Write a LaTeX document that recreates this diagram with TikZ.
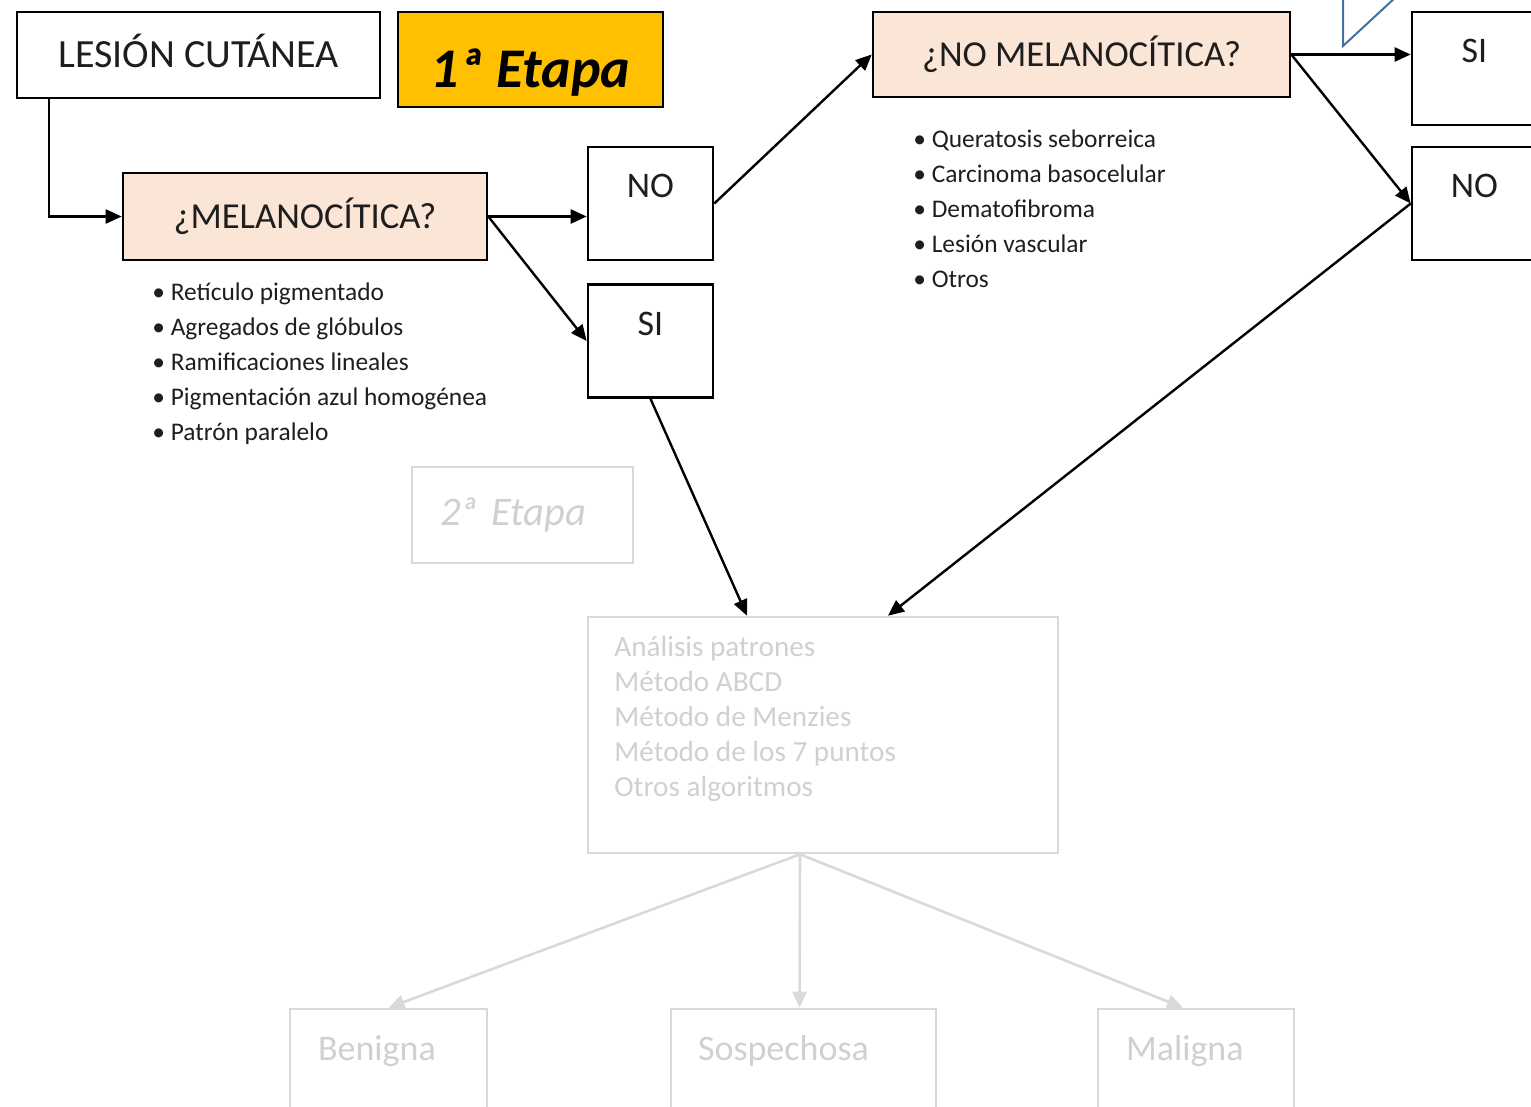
\documentclass[tikz,border=0pt]{standalone}
\usepackage{fontspec}
\setmainfont{Carlito}
\usepackage{xcolor}
\usepackage{tikz}
\usetikzlibrary{arrows.meta}
\definecolor{peach}{HTML}{FBE5D6}
\definecolor{gold}{HTML}{FFC000}
\definecolor{faint}{HTML}{D9D9D9}
\definecolor{faintText}{HTML}{D0D0D0}
\definecolor{ink}{HTML}{1E1E1E}
\definecolor{steel}{HTML}{41719C}

\begin{document}
\begin{tikzpicture}[x=0.5pt,y=-0.5pt,>={Triangle[length=8pt,width=7pt]},
  box/.style={draw=black,line width=1.3pt,inner sep=0pt,text=ink},
  ynbox/.style={box,minimum width=62.5pt,text height=25.5pt,text depth=31pt,font=\fontsize{18}{21}\selectfont},
  faintbox/.style={draw=faint,line width=1.3pt,inner sep=0pt,text=faintText},
  faintcap/.style={faintbox,align=left,inner xsep=14pt,text height=25.5pt,text depth=26.5pt,font=\fontsize{18}{21}\selectfont},
  bullets/.style={anchor=north west,align=left,inner sep=0pt,text=ink,font=\fontsize{12.7}{17.5}\selectfont},
  link/.style={->,line width=1.2pt},
  faintlink/.style={->,draw=faint,line width=1.3pt}]
  \useasboundingbox (0,0) rectangle (1531,1107);
  \clip (0,0) rectangle (1531,1107);
  % first stage
  \node[box,minimum width=181.5pt,text height=28pt,text depth=15pt,font=\fontsize{20}{24}\selectfont] (lesion) at (198.5,55) {LESIÓN CUTÁNEA};
  \node[box,fill=gold,minimum width=132.5pt,text height=38pt,text depth=9.5pt,font=\fontsize{28}{32}\selectfont\bfseries\itshape,text=black] (etapa1) at (530.5,59.5) {1ª Etapa};
  \node[box,fill=peach,minimum width=182pt,minimum height=43.5pt,font=\fontsize{18.3}{22}\selectfont] (mel) at (305,216.5) {¿MELANOCÍTICA?};
  \node[ynbox] (no1) at (650.5,203.5) {NO};
  \node[ynbox] (si1) at (650.5,341) {SI};
  \node[box,fill=peach,minimum width=208.5pt,minimum height=42.5pt,font=\fontsize{18.3}{22}\selectfont] (nomel) at (1081.5,54.5) {¿NO MELANOCÍTICA?};
  \node[ynbox] (si2) at (1474.5,68.5) {SI};
  \node[ynbox] (no2) at (1474.5,203.5) {NO};
  \node[bullets] (melList) at (152,282) {\textbullet\ Retículo pigmentado\\ \textbullet\ Agregados de glóbulos\\ \textbullet\ Ramificaciones lineales\\ \textbullet\ Pigmentación azul homogénea\\ \textbullet\ Patrón paralelo};
  \node[bullets] (nomelList) at (913,129) {\textbullet\ Queratosis seborreica\\ \textbullet\ Carcinoma basocelular\\ \textbullet\ Dematofibroma\\ \textbullet\ Lesión vascular\\ \textbullet\ Otros};
  \draw[steel,line width=1pt] (1397,-4) -- (1343,46) -- (1343,-10);
  % second stage
  \node[faintbox,align=left,inner xsep=14pt,text width=82.5pt,minimum height=48pt,font=\fontsize{20.3}{24}\selectfont\itshape] (etapa2) at (522.5,515) {2ª Etapa};
  \node[faintbox,minimum width=235pt,minimum height=118pt] (ana) at (823,735) {};
  \node[anchor=north west,align=left,inner sep=0pt,text=faintText,font=\fontsize{14.6}{17.5}\selectfont] (anaList) at (614,636) {Análisis patrones\\ Método ABCD\\ Método de Menzies\\ Método de los 7 puntos\\ Otros algoritmos};
  \node[faintcap,text width=70.5pt] (ben) at (388.5,1061) {Benigna};
  \node[faintcap,inner xsep=13.5pt,text width=105.5pt] (sos) at (803.5,1061) {Sospechosa};
  \node[faintcap,text width=70pt] (mal) at (1196,1061) {Maligna};
  % connectors
  \draw[link] ([xshift=16.5pt]lesion.south west) |- (mel.west);
  \draw[link] (mel.east) -- (mel.east -| no1.west);
  \draw[link] (mel.east) -- (si1.west);
  \draw[link] (no1.east) -- (nomel.west);
  \draw[link] (nomel.east) -- (nomel.east -| si2.west);
  \draw[link] (nomel.east) -- (no2.west);
  \draw[link] (si1.south) -- ([xshift=-38pt]ana.north);
  \draw[link] (no2.west) -- ([xshift=32.5pt]ana.north);
  \draw[faintlink] ([xshift=-11.5pt]ana.south) -- (ben.north);
  \draw[faintlink] ([xshift=-11.5pt]ana.south) -- ([xshift=-2pt]sos.north);
  \draw[faintlink] ([xshift=-11.5pt]ana.south) -- ([xshift=-6.5pt]mal.north);
\end{tikzpicture}
\end{document}
